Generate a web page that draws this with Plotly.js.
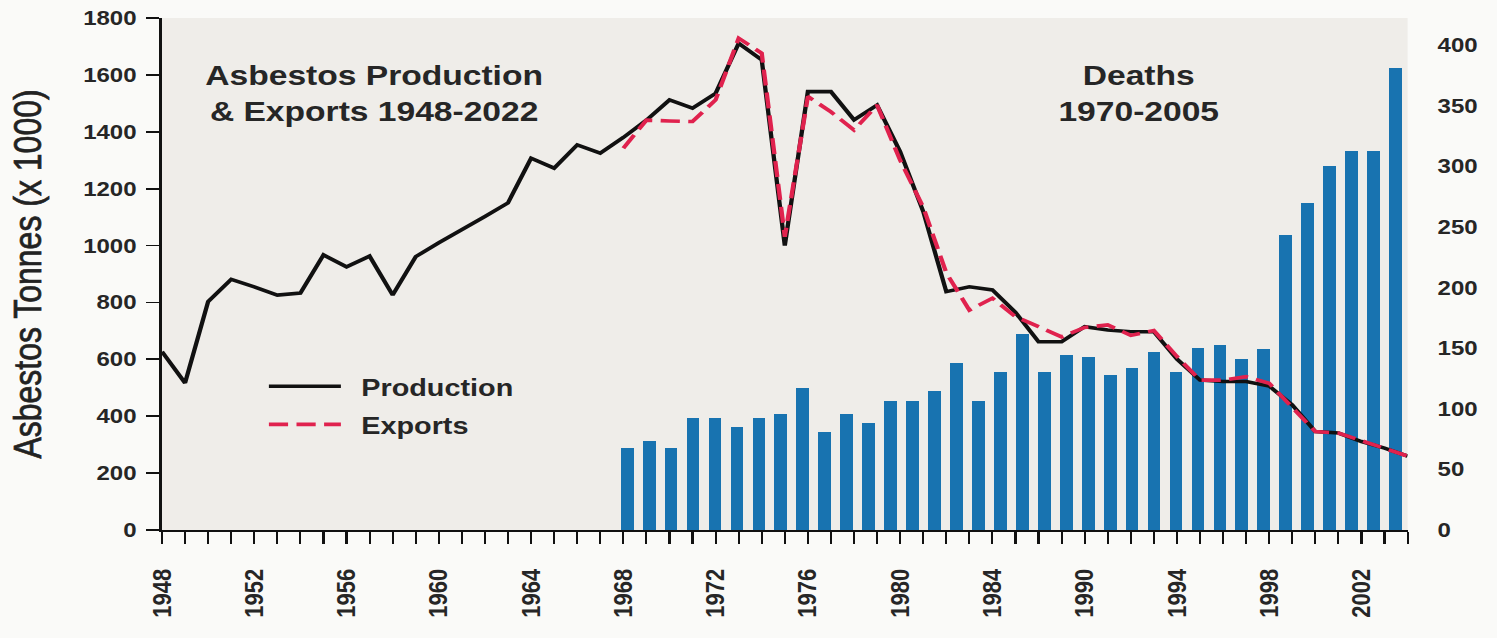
<!DOCTYPE html>
<html><head><meta charset="utf-8">
<script src="https://cdn.plot.ly/plotly-3.0.1.min.js"></script>
<style>
html,body{margin:0;padding:0;background:#fafaf8;overflow:hidden;}
#chart{width:1248px;height:638px;transform:scaleX(1.2);transform-origin:0 0;}
#chart .y2title{stroke:#222;stroke-width:0.6px;}
</style></head><body><div id="chart"></div>
<script>
// ---- data ----
const prodYears = [1948,1949,1950,1951,1952,1953,1954,1955,1956,1957,1958,1959,1960,1961,1962,1963,1964,1965,1966,1967,
  1968,1969,1970,1971,1972,1973,1974,1975,1976,1977,1978,1979,1980,1981,1982,1983,1984,1985,1986,1987,
  1988,1989,1990,1991,1992,1993,1994,1995,1996,1997,1998,1999,2000,2001,2002];
const production = [627,517,803,881,855,826,833,967,925,963,826,961,1010,1055,1102,1150,1307,1272,1354,1325,
  1380,1441,1512,1483,1535,1711,1653,1000,1541,1541,1442,1494,1330,1120,838,855,844,765,662,662,
  715,703,697,697,601,527,522,522,506,440,346,341,311,288,260];
const exportYears = [1968,1969,1970,1971,1972,1973,1974,1975,1976,1977,1978,1979,1980,1981,1982,1983,1984,
  1985,1986,1987,1988,1989,1990,1991,1992,1993,1994,1995,1996,1997,1998,1999,2000,2001,2002];
const exportsT = [1342,1441,1438,1436,1512,1729,1676,1031,1524,1470,1406,1494,1300,1135,904,773,815,
  750,715,679,712,721,684,701,610,527,527,539,516,430,346,341,315,288,260];
const deathYears = [1970,1971,1972,1973,1974,1975,1976,1977,1978,1979,1980,1981,1982,1983,1984,1985,1986,1987,
  1988,1989,1990,1991,1992,1993,1994,1995,1996,1997,1998,1999,2000,2001,2002,2003,2004,2005];
const deaths = [68,73,68,92,92,85,92,96,117,81,96,88,106,106,115,138,106,130,
  162,130,144,143,128,134,147,130,150,153,141,149,243,270,300,313,313,381];
const tickLabels = ['1948','1952','1956','1960','1964','1968','1972','1976','1980','1984','1990','1994','1998','2002'];
const leftTicks = [0,200,400,600,800,1000,1200,1400,1600,1800];
const rightTicks = [0,50,100,150,200,250,300,350,400];

// every year gets a tick; every 4th one carries a label
const tickVals = prodYears.slice();
const tickText = tickVals.map((y, i) => (i % 4 === 0 && tickLabels[i / 4]) ? tickLabels[i / 4] : '');

const FONT = '"Liberation Sans", Arial, Helvetica, sans-serif';
const INK = '#262626';

const traces = [
  {type:'bar', x:deathYears, y:deaths, xaxis:'x', yaxis:'y', name:'Deaths',
   marker:{color:'#1873b0'}, width:0.58, showlegend:false, hoverinfo:'x+y'},
  {type:'scatter', mode:'lines', x:prodYears, y:production, xaxis:'x2', yaxis:'y2',
   name:'\u2002Production', legendgroup:'p', line:{color:'#111111', width:3.6}},
  {type:'scatter', mode:'lines', x:exportYears, y:exportsT, xaxis:'x2', yaxis:'y2',
   name:'\u2002Exports', legendgroup:'e', line:{color:'#e0224e', width:3.6, dash:'16px,7px'}}
];

const layout = {
  width:1248, height:638,
  margin:{l:135, r:75, t:18, b:108},
  paper_bgcolor:'#fafaf8', plot_bgcolor:'#efede9',
  font:{family:FONT, color:INK},
  showlegend:true,
  legend:{x:0.081, y:0.324, xanchor:'left', yanchor:'top', bgcolor:'rgba(0,0,0,0)',
    font:{size:24, weight:'bold', color:INK}, itemwidth:60, traceorder:'grouped', tracegroupgap:4},
  bargap:0,
  xaxis:{range:[1948.81, 2005.55], visible:false, fixedrange:true},
  yaxis:{range:[0, 422.3], side:'right', showgrid:false, zeroline:false, showline:false,
    tickvals:rightTicks, ticks:'', ticklabelstandoff:24,
    tickfont:{size:20, weight:'bold', color:INK}},
  xaxis2:{overlaying:'x', anchor:'y2', side:'bottom', range:[1948, 2002],
    tickvals:tickVals, ticktext:tickText, tickangle:-90,
    ticks:'outside', ticklen:12, tickwidth:1.8, tickcolor:'#111',
    showline:true, linecolor:'#111', linewidth:2, showgrid:false, zeroline:false,
    ticklabelstandoff:16, tickfont:{size:22, weight:'bold', color:INK}},
  yaxis2:{overlaying:'y', anchor:'x2', side:'left', range:[0, 1800], tickvals:leftTicks,
    ticks:'outside', ticklen:11, tickwidth:1.8, tickcolor:'#111',
    showline:true, linecolor:'#111', linewidth:2.2, showgrid:false, zeroline:false,
    ticklabelstandoff:4, tickfont:{size:20, weight:'bold', color:INK}},
  annotations:[
    {xref:'paper', yref:'paper', x:0.171, y:0.852, xanchor:'center', yanchor:'middle', showarrow:false,
     text:'Asbestos Production<br>& Exports 1948-2022', font:{size:28, weight:'bold', color:INK}},
    {xref:'paper', yref:'paper', x:0.784, y:0.852, xanchor:'center', yanchor:'middle', showarrow:false,
     text:'Deaths<br>1970-2005', font:{size:28, weight:'bold', color:INK}}
  ]
};
layout.yaxis2.title = {text:'Asbestos Tonnes (x 1000)', standoff:25, font:{size:32, color:'#222'}};

Plotly.newPlot('chart', traces, layout, {displayModeBar:false, staticPlot:true});
</script></body></html>
